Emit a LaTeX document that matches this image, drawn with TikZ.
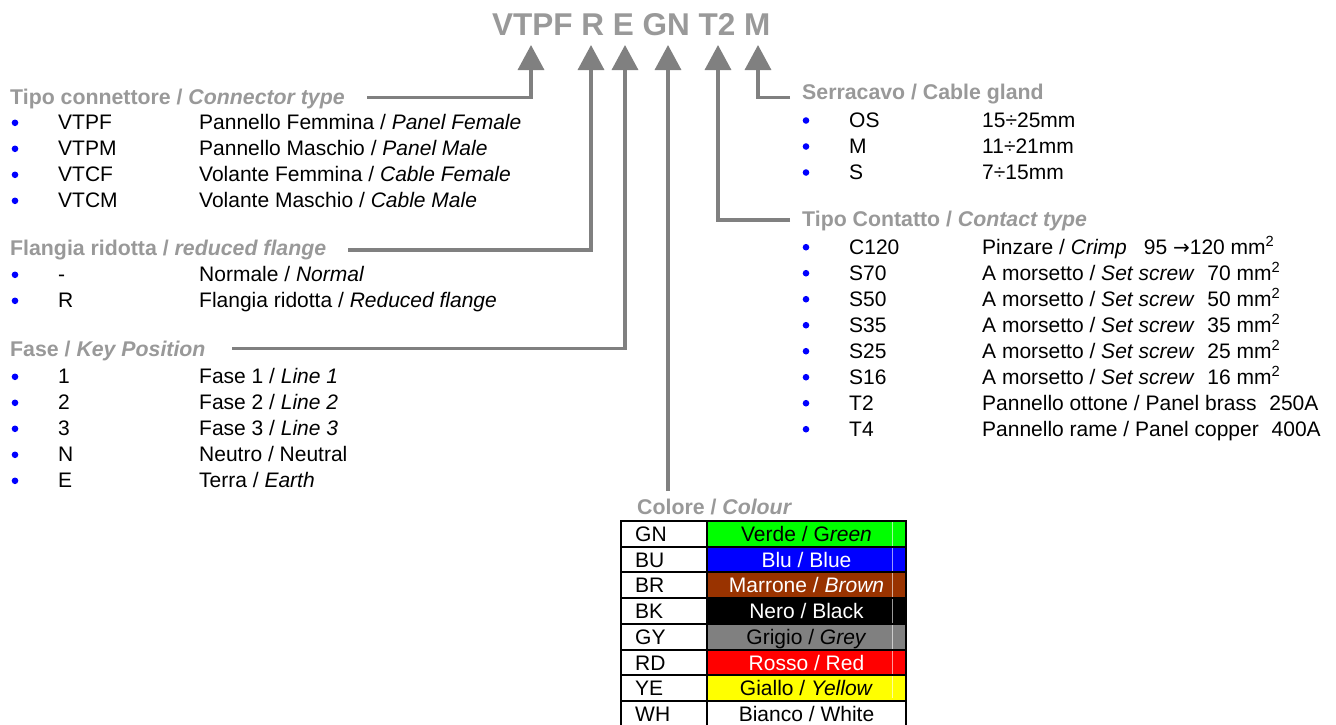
\documentclass[tikz,border=0pt]{standalone}
\usepackage{fontspec}
\setmainfont{Liberation Sans}
\newfontfamily\arrowfont{DejaVu Sans}
\usetikzlibrary{arrows.meta}
\definecolor{conngray}{RGB}{128,128,128}
\definecolor{hdrgray}{RGB}{153,153,153}
\definecolor{bulletblue}{RGB}{0,0,255}
\definecolor{cgreen}{RGB}{0,255,0}
\definecolor{cblue}{RGB}{0,0,255}
\definecolor{cbrown}{RGB}{153,51,0}
\definecolor{cgrey}{RGB}{128,128,128}
\definecolor{cred}{RGB}{255,0,0}
\definecolor{cyellow}{RGB}{255,255,0}
\newcommand\lrow[4]{%
  \fill[bulletblue] (15,#2+0.5) circle (3.3pt);
  \node[txt] (#1c) at (58,#2+7.6) {#3};
  \node[txt] (#1d) at (199,#2+7.6) {#4};}
\newcommand\rrow[4]{%
  \fill[bulletblue] (806,#2+0.5) circle (3.3pt);
  \node[txt] (#1c) at (849,#2+7.6) {#3};
  \node[txt] (#1d) at (982,#2+7.6) {#4};}
\newcommand\tabrow[6]{% name, row top, code, fill, text colour, desc
  \fill[#4] (708,#2+1) rectangle (905,#2+24.7);
  \node[txt] (#1c) at (635,#2+20.5) {#3};
  \node[txt,anchor=base,text=#5] (#1d) at (806.5,#2+20.5) {#6};}
\begin{document}
\begin{tikzpicture}[x=1pt,y=-1pt,
  txt/.style={anchor=base west,inner sep=0pt,font=\fontsize{21}{25}\selectfont},
  hdr/.style={anchor=base west,inner sep=0pt,font=\fontsize{21.3}{25}\selectfont\bfseries,text=hdrgray},
  ttl/.style={anchor=base west,inner sep=0pt,font=\fontsize{31.5}{37}\selectfont\bfseries,text=hdrgray},
  conn/.style={draw=conngray,line width=3.4pt,-{Triangle[width=26pt,length=25pt]}},
  grid/.style={draw=black,line width=2pt}
]
\useasboundingbox (0,0) rectangle (1336,724);
\fill[white] (0,0) rectangle (1336,724);

% title
\node[ttl] (title) at (492,35.5) {VTPF R E GN T2 M};

% arrow tips
\coordinate (pA) at (531,45);
\coordinate (pB) at (591,45);
\coordinate (pC) at (625,45);
\coordinate (pD) at (668,45);
\coordinate (pE) at (718,45);
\coordinate (pF) at (758,45);

% connector starts
\coordinate (sA) at (367,97.7);
\coordinate (sB) at (348,250);
\coordinate (sC) at (232,348.3);
\coordinate (sD) at (668,491);
\coordinate (sE) at (790,220);
\coordinate (sF) at (790,97.7);

\draw[conn] (sA) -| (pA);
\draw[conn] (sB) -| (pB);
\draw[conn] (sC) -| (pC);
\draw[conn] (sD) -- (pD);
\draw[conn] (sE) -| (pE);
\draw[conn] (sF) -| (pF);

% left lists
\node[hdr] (h1) at (10,104) {Tipo connettore / \textit{Connector type}};
\lrow{a1}{122.3}{VTPF}{Pannello Femmina / \textit{Panel Female}}
\lrow{a2}{148.3}{VTPM}{Pannello Maschio / \textit{Panel Male}}
\lrow{a3}{174.3}{VTCF}{Volante Femmina / \textit{Cable Female}}
\lrow{a4}{200.3}{VTCM}{Volante Maschio / \textit{Cable Male}}

\node[hdr] (h2) at (10,255.5) {Flangia ridotta / \textit{reduced flange}};
\lrow{b1}{274.3}{-}{Normale / \textit{Normal}}
\lrow{b2}{300.3}{R}{Flangia ridotta / \textit{Reduced flange}}

\node[hdr] (h3) at (10,356) {Fase / \textit{Key Position}};
\lrow{e1}{376.3}{1}{Fase 1 / \textit{Line 1}}
\lrow{e2}{402.3}{2}{Fase 2 / \textit{Line 2}}
\lrow{e3}{428.3}{3}{Fase 3 / \textit{Line 3}}
\lrow{e4}{454.3}{N}{Neutro / Neutral}
\lrow{e5}{480.3}{E}{Terra / \textit{Earth}}

% right lists
\node[hdr] (h4) at (802,99.5) {Serracavo / Cable gland};
\rrow{m1}{120}{OS}{15÷25mm}
\rrow{m2}{146}{M}{11÷21mm}
\rrow{m3}{172}{S}{7÷15mm}

\node[hdr] (h5) at (802,226.7) {Tipo Contatto / \textit{Contact type}};
\rrow{t1}{246.7}{C120}{Pinzare / \textit{Crimp}\hspace{17pt}95 {\arrowfont\fontsize{20}{24}\selectfont →}120 mm\textsuperscript{2}}
\rrow{t2}{272.7}{S70}{A morsetto / \textit{Set screw}\hspace{7pt} 70 mm\textsuperscript{2}}
\rrow{t3}{298.7}{S50}{A morsetto / \textit{Set screw}\hspace{7pt} 50 mm\textsuperscript{2}}
\rrow{t4}{324.7}{S35}{A morsetto / \textit{Set screw}\hspace{7pt} 35 mm\textsuperscript{2}}
\rrow{t5}{350.7}{S25}{A morsetto / \textit{Set screw}\hspace{7pt} 25 mm\textsuperscript{2}}
\rrow{t6}{376.7}{S16}{A morsetto / \textit{Set screw}\hspace{7pt} 16 mm\textsuperscript{2}}
\rrow{t7}{402.7}{T2}{Pannello ottone / Panel brass\hspace{7pt} 250A}
\rrow{t8}{428.7}{T4}{Pannello rame / Panel copper\hspace{7pt} 400A}

% colour table
\node[hdr] (h6) at (637,514) {Colore / \textit{Colour}};
\tabrow{k1}{521}{GN}{cgreen}{black}{Verde / G\textit{reen}}
\tabrow{k2}{546.7}{BU}{cblue}{white}{Blu / Blue}
\tabrow{k3}{572.4}{BR}{cbrown}{white}{Marrone / \textit{Brown}}
\tabrow{k4}{598.1}{BK}{black}{white}{Nero / Black}
\tabrow{k5}{623.8}{GY}{cgrey}{black}{Grigio / \textit{Grey}}
\tabrow{k6}{649.5}{RD}{cred}{white}{Rosso / Red}
\tabrow{k7}{675.2}{YE}{cyellow}{black}{Giallo / \textit{Yellow}}
\tabrow{k8}{700.9}{WH}{white}{black}{Bianco / White}
\draw[white,opacity=0.6,line width=0.6pt] (892,522) -- (892,698);
\foreach \yy in {521,546.7,572.4,598.1,623.8,649.5,675.2,700.9,726.6}
  \draw[grid] (620,\yy) -- (907,\yy);
\draw[grid] (621,520) -- (621,730);
\draw[grid] (707,520) -- (707,730);
\draw[grid] (906,520) -- (906,730);
\end{tikzpicture}
\end{document}
